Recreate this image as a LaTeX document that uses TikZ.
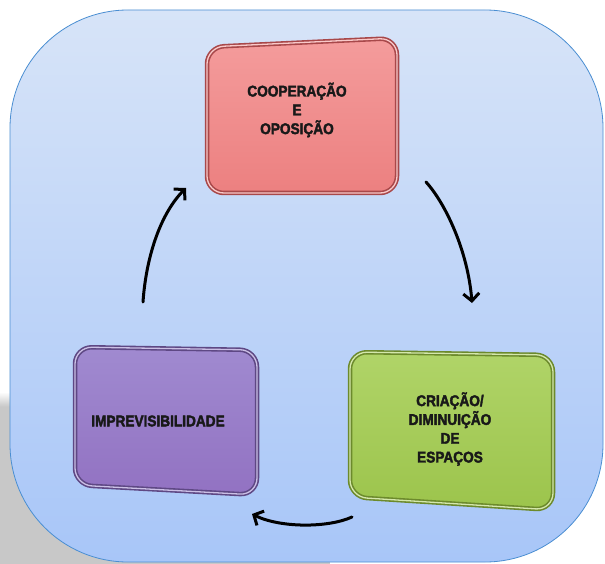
\documentclass[tikz,border=0pt]{standalone}
\usepackage{fontspec}
\setmainfont{Liberation Sans}
\newfontfamily\lblfont[FakeBold=2.4,FakeStretch=0.88]{Liberation Sans Bold}
\usetikzlibrary{arrows.meta}
\definecolor{panelTop}{HTML}{D7E4F8}
\definecolor{panelBot}{HTML}{A8C6F8}
\definecolor{panelLine}{HTML}{4A8ED2}
\definecolor{redTop}{HTML}{F49C9C}
\definecolor{redBot}{HTML}{EC8080}
\definecolor{redEdge}{HTML}{A8484A}
\definecolor{purTop}{HTML}{A08AD0}
\definecolor{purBot}{HTML}{9272C2}
\definecolor{purEdge}{HTML}{5E4884}
\definecolor{grnTop}{HTML}{B0D468}
\definecolor{grnBot}{HTML}{9CC44C}
\definecolor{grnEdge}{HTML}{6C8A2C}
\definecolor{bgGray}{HTML}{C8C8C8}
\begin{document}
\begin{tikzpicture}[x=1pt,y=-1pt,
  lbl/.style={align=center,text=black!90,inner sep=0pt,
    font=\lblfont\fontsize{15.5}{18.8}\selectfont},
  boxedge/.style={rounded corners=17pt,line width=1.6pt,double distance=1.3pt},
  shadowbox/.style={rounded corners=17pt,fill=black,opacity=0.3},
  flow/.style={line width=3pt,line cap=round,black,
    -{Straight Barb[length=7.5pt,width=16pt,line width=3pt]}}]
\useasboundingbox (0,0) rectangle (605,564);
% background
\fill[white] (0,0) rectangle (605,564);
\fill[bgGray] (0,406) rectangle (330,564);
\shade[top color=white,bottom color=bgGray] (0,392) rectangle (330,406.5);
% panel
\shade[top color=panelTop,bottom color=panelBot,rounded corners=118pt]
  (10,10) rectangle (603,562);
\draw[panelLine,line width=0.8pt,rounded corners=118pt]
  (10,10) rectangle (603,562);
% red box
\coordinate (r1) at (207,47); \coordinate (r2) at (397,38);
\coordinate (r3) at (397,193); \coordinate (r4) at (207,193);
\fill[shadowbox,shift={(4,4)}] (r1)--(r2)--(r3)--(r4)--cycle;
\shade[top color=redTop,bottom color=redBot,rounded corners=17pt]
  (r1)--(r2)--(r3)--(r4)--cycle;
\draw[boxedge,draw=redEdge,double=redTop!55!white] (r1)--(r2)--(r3)--(r4)--cycle;
\node[lbl] (tRed) at (297,110) {COOPERAÇÃO\\E\\OPOSIÇÃO};
% purple box
\coordinate (p1) at (75,347); \coordinate (p2) at (257,350);
\coordinate (p3) at (257,495); \coordinate (p4) at (75,485);
\fill[shadowbox,shift={(4,4)}] (p1)--(p2)--(p3)--(p4)--cycle;
\shade[top color=purTop,bottom color=purBot,rounded corners=17pt]
  (p1)--(p2)--(p3)--(p4)--cycle;
\draw[boxedge,draw=purEdge,double=purTop!55!white] (p1)--(p2)--(p3)--(p4)--cycle;
\node[lbl] (tPur) at (158,421) {IMPREVISIBILIDADE};
% green box
\coordinate (g1) at (350,352); \coordinate (g2) at (553,355);
\coordinate (g3) at (553,510); \coordinate (g4) at (350,497);
\fill[shadowbox,shift={(4,4)}] (g1)--(g2)--(g3)--(g4)--cycle;
\shade[top color=grnTop,bottom color=grnBot,rounded corners=17pt]
  (g1)--(g2)--(g3)--(g4)--cycle;
\draw[boxedge,draw=grnEdge,double=grnTop!55!white] (g1)--(g2)--(g3)--(g4)--cycle;
\node[lbl] (tGrn) at (450,429) {CRIAÇÃO/\\DIMINUIÇÃO\\DE\\ESPAÇOS};
% arrows
\coordinate (a1s) at (143,302); \coordinate (a1e) at (186,188);
\coordinate (a2s) at (426,182); \coordinate (a2e) at (472,303);
\coordinate (a3s) at (352,517); \coordinate (a3e) at (252,514);
\draw[flow] (a1s) .. controls (146,258) and (160,214) .. (a1e);
\draw[flow] (a2s) .. controls (446,204) and (468,252) .. (a2e);
\draw[flow] (a3s) .. controls (328,528) and (280,528) .. (a3e);
\end{tikzpicture}
\end{document}
